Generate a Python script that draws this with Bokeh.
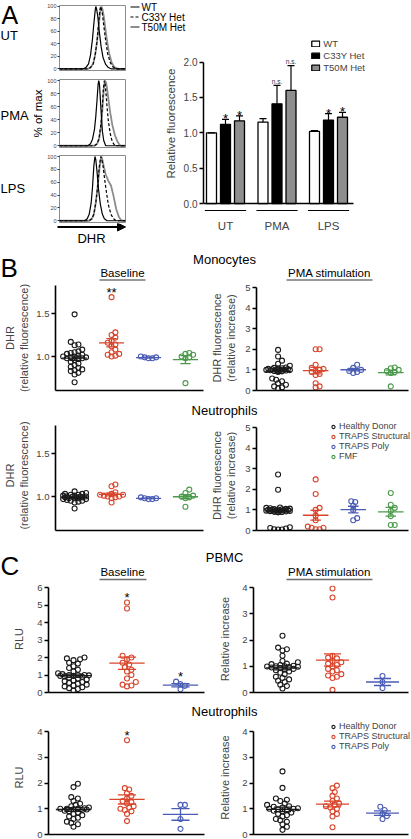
import numpy as np
from bokeh.plotting import figure
from bokeh.layouts import row, column
from bokeh.models import (Range1d, FixedTicker, PrintfTickFormatter, Arrow,
                          NormalHead, Legend, LegendItem)
from bokeh.core.properties import value
from bokeh.embed import file_html
from bokeh.resources import INLINE

# ---------------------------------------------------------------- data
GENOTYPES = ["WT", "C33Y Het", "T50M Het"]
HIST_TICKS = [0, 20, 40, 60, 80, 100]

# flow histograms (% of max vs DHR channel)
ut_wt_x = [0, 36, 40, 44, 47, 50, 52, 54, 55, 56, 58, 60, 63, 66, 70, 74, 78, 100]
ut_wt_y = [0, 0, 2, 8, 22, 48, 72, 93, 100, 97, 85, 62, 36, 18, 7, 2, 0, 0]
ut_c33y_x = [0, 43, 47, 51, 54, 57, 59, 61, 62, 63, 65, 67, 70, 73, 77, 81, 86, 100]
ut_c33y_y = [0, 0, 2, 8, 22, 45, 70, 92, 100, 98, 88, 70, 45, 24, 10, 3, 0, 0]
ut_t50m_x = [0, 43, 47, 51, 54, 57, 60, 62, 63.5, 65, 67, 69, 72, 75, 79, 83, 89, 100]
ut_t50m_y = [0, 0, 2, 8, 22, 45, 75, 94, 100, 96, 85, 68, 45, 26, 10, 3, 0, 0]

pma_wt_x = [0, 43, 47, 50, 53, 55, 57, 58.5, 59.5, 60.5, 62, 63.5, 65, 67, 70, 100]
pma_wt_y = [0, 0, 3, 10, 25, 45, 72, 94, 100, 95, 70, 45, 22, 8, 0, 0]
pma_c33y_x = [0, 53, 57, 60, 63, 65, 66.5, 68, 69, 70.5, 72, 74, 77, 80, 84, 100]
pma_c33y_y = [0, 0, 3, 12, 35, 62, 88, 100, 96, 80, 60, 38, 18, 6, 0, 0]
pma_t50m_x = [0, 53, 57, 60, 63, 65, 67, 69, 70.5, 72, 74, 77, 80, 84, 88, 92, 100]
pma_t50m_y = [0, 0, 3, 10, 30, 55, 85, 100, 97, 88, 72, 50, 32, 16, 6, 0, 0]

lps_wt_x = [0, 38, 42, 45, 48, 50, 52, 53.7, 55, 57, 59, 62, 65, 68, 72, 100]
lps_wt_y = [0, 0, 3, 10, 28, 52, 85, 100, 95, 75, 50, 25, 10, 3, 0, 0]
lps_c33y_x = [0, 45, 49, 52, 55, 58, 60, 62.4, 64, 66, 68, 71, 74, 78, 82, 86, 100]
lps_c33y_y = [0, 0, 3, 10, 28, 55, 82, 100, 96, 85, 68, 45, 25, 10, 3, 0, 0]
lps_t50m_x = [0, 45, 49, 52, 55, 58, 61, 63.4, 65, 67, 70, 74, 78, 82, 86, 90, 94, 100]
lps_t50m_y = [0, 0, 3, 10, 28, 55, 85, 100, 95, 85, 72, 62, 55, 38, 18, 6, 0, 0]

# bar chart (relative fluorescence, mean + error)
CONDITIONS = ["UT", "PMA", "LPS"]
BAR_TICKS = [0.0, 0.5, 1.0, 1.5, 2.0]
bar_wt = [1.00, 1.15, 1.02]
bar_wt_err = [0.00, 0.05, 0.01]
bar_wt_sig = ["", "", ""]
bar_c33y = [1.12, 1.41, 1.18]
bar_c33y_err = [0.07, 0.26, 0.09]
bar_c33y_sig = ["*", "n.s.", "*"]
bar_t50m = [1.17, 1.60, 1.22]
bar_t50m_err = [0.07, 0.35, 0.07]
bar_t50m_sig = ["*", "n.s.", "*"]

# panel B: DHR in monocytes / neutrophils
GROUPS_B = ["Healthy Donor", "TRAPS Structural", "TRAPS Poly", "FMF"]
mono_base_hd = [1.49, 1.17, 1.14, 1.13, 1.08, 1.06, 1.05, 1.04, 1.03, 1.02, 1.01, 1.00, 1.00,
                0.99, 0.99, 0.98, 0.98, 0.97, 0.96, 0.94, 0.92, 0.90, 0.88, 0.87, 0.85, 0.84,
                0.83, 0.81, 0.79, 0.70]
mono_base_ts = [1.69, 1.28, 1.25, 1.22, 1.18, 1.16, 1.14, 1.12, 1.08, 1.05, 1.03, 1.02, 1.01, 1.00]
mono_base_tp = [1.00, 0.99, 0.99, 0.98, 0.98]
mono_base_fmf = [1.04, 1.03, 1.02, 1.00, 0.99, 0.98, 0.69]
mono_base_sig = ["", "**", "", ""]

mono_pma_hd = [1.97, 1.65, 1.45, 1.30, 1.20, 1.12, 1.10, 1.08, 1.06, 1.05, 1.04, 1.03, 1.02,
               1.01, 1.00, 1.00, 0.99, 0.98, 0.97, 0.95, 0.93, 0.90, 0.58, 0.52, 0.45, 0.35,
               0.28, 0.20, 0.15, 0.10]
mono_pma_ts = [2.00, 2.00, 1.25, 1.10, 1.05, 1.00, 0.95, 0.90, 0.80, 0.75, 0.35, 0.20, 0.15]
mono_pma_tp = [1.25, 1.10, 1.00, 0.95, 0.90, 0.85]
mono_pma_fmf = [1.12, 1.08, 1.00, 0.95, 0.90, 0.85, 0.20]

neut_base_hd = [1.06, 1.04, 1.03, 1.03, 1.02, 1.02, 1.01, 1.01, 1.00, 1.00, 1.00, 1.00, 0.99,
                0.99, 0.99, 0.98, 0.98, 0.98, 0.97, 0.97, 0.96, 0.95, 0.95, 0.94, 0.93, 0.86]
neut_base_ts = [1.14, 1.12, 1.05, 1.03, 1.02, 1.02, 1.01, 1.00, 1.00, 0.99, 0.98, 0.93]
neut_base_tp = [0.99, 0.98, 0.98, 0.97, 0.97]
neut_base_fmf = [1.08, 1.04, 1.01, 1.00, 0.99, 0.98, 0.88]

neut_pma_hd = [2.72, 1.98, 1.12, 1.10, 1.08, 1.06, 1.05, 1.04, 1.03, 1.02, 1.01, 1.00, 1.00,
               0.99, 0.98, 0.97, 0.96, 0.95, 0.94, 0.93, 0.92, 0.90, 0.88, 0.16, 0.12, 0.10,
               0.06, 0.05, 0.05]
neut_pma_ts = [2.48, 1.77, 1.10, 1.00, 0.72, 0.50, 0.19, 0.13, 0.06, 0.06, 0.13]
neut_pma_tp = [1.42, 1.38, 1.20, 1.00, 0.60, 0.50]
neut_pma_fmf = [1.82, 1.25, 1.10, 0.95, 0.70, 0.27, 0.27]

# panel C: chemiluminescence in PBMC / neutrophils
GROUPS_C = ["Healthy Donor", "TRAPS Structural", "TRAPS Poly"]
pbmc_base_hd = [2.00, 1.95, 1.90, 1.85, 1.70, 1.65, 1.50, 1.40, 1.30, 1.20, 1.10, 1.05, 1.00,
                1.00, 1.00, 0.98, 0.95, 0.95, 0.92, 0.90, 0.85, 0.80, 0.75, 0.70, 0.65, 0.60,
                0.55, 0.50, 0.45, 0.40, 0.35, 0.30, 0.25, 0.20, 0.10]
pbmc_base_ts = [5.14, 4.80, 2.10, 2.00, 1.90, 1.70, 1.60, 1.45, 1.30, 1.20, 1.00, 0.80, 0.60,
                0.45, 0.40, 0.35]
pbmc_base_tp = [0.62, 0.48, 0.38, 0.19]
pbmc_base_sig = ["", "*", "*"]

pbmc_pma_hd = [2.16, 1.71, 1.65, 1.60, 1.40, 1.20, 1.15, 1.10, 1.08, 1.05, 1.02, 1.00, 1.00,
               0.99, 0.98, 0.97, 0.95, 0.93, 0.90, 0.88, 0.85, 0.80, 0.75, 0.70, 0.60, 0.55,
               0.50, 0.45, 0.40, 0.30, 0.25, 0.15]
pbmc_pma_ts = [3.96, 3.62, 1.40, 1.33, 1.30, 1.20, 1.15, 1.10, 1.05, 1.00, 0.90, 0.85, 0.80,
               0.70, 0.65, 0.60, 0.55, 0.10]
pbmc_pma_tp = [0.63, 0.40, 0.17]

neut2_base_hd = [1.97, 1.84, 1.45, 1.40, 1.30, 1.20, 1.15, 1.10, 1.05, 1.02, 1.00, 1.00, 1.00,
                 0.98, 0.97, 0.95, 0.92, 0.90, 0.85, 0.80, 0.75, 0.70, 0.65, 0.60, 0.50, 0.45,
                 0.40, 0.30]
neut2_base_ts = [3.66, 1.80, 1.75, 1.60, 1.50, 1.40, 1.30, 1.25, 1.20, 1.10, 1.05, 1.00, 0.95,
                 0.90, 0.80, 0.52]
neut2_base_tp = [1.15, 1.15, 0.60, 0.22]
neut2_base_sig = ["", "*", ""]

neut2_pma_hd = [2.45, 1.81, 1.40, 1.35, 1.30, 1.20, 1.15, 1.10, 1.08, 1.05, 1.02, 1.00, 1.00,
                0.98, 0.95, 0.92, 0.90, 0.85, 0.80, 0.75, 0.70, 0.60, 0.55, 0.50, 0.40, 0.30,
                0.18]
neut2_pma_ts = [1.90, 1.80, 1.65, 1.50, 1.40, 1.30, 1.20, 1.15, 1.10, 1.05, 1.00, 0.90, 0.80,
                0.70, 0.28]
neut2_pma_tp = [1.08, 0.95, 0.80, 0.72, 0.60]

# ---------------------------------------------------------------- styling helpers
FONT = "Liberation Sans"
COLORS = ["#1a1a1a", "#d9452b", "#4a5cb3", "#4b994b"]
BAR_FILLS = ["white", "black", "#8e8e8e"]
HIST_STYLES = {"WT": dict(line_color="black", line_width=1.2),
               "C33Y Het": dict(line_color="black", line_width=1.2, line_dash="3 2"),
               "T50M Het": dict(line_color="#8c8c8c", line_width=1.8)}


def px(v):
    return int(round(v))


def fs(size):
    return f"{size:.1f}px"


def make_fig(box, frame, x_range, y_range, axes=True):
    x0, x1, y0, y1 = box
    fl, fr, ft, fb = frame
    kw = {} if axes else dict(x_axis_type=None, y_axis_type=None)
    p = figure(width=px(x1 - x0), height=px(y1 - y0),
               x_range=x_range, y_range=y_range,
               min_border_left=px(fl - x0), min_border_right=px(x1 - fr),
               min_border_top=px(ft - y0), min_border_bottom=px(y1 - fb),
               output_backend="svg", toolbar_location=None, **kw)
    p.frame_align = False
    p.outline_line_color = None
    p.grid.visible = False
    return p


def style_axis(ax, font_px=9.5, line_w=1.6):
    ax.axis_line_width = line_w
    ax.major_tick_out = 4
    ax.major_tick_in = 0
    ax.major_tick_line_width = 1.3
    ax.minor_tick_line_color = None
    ax.major_label_text_font = FONT
    ax.major_label_text_font_size = fs(font_px)
    ax.major_label_standoff = 2
    ax.axis_label_text_font = FONT
    ax.axis_label_text_font_style = "normal"
    ax.axis_label_text_font_size = fs(11)


def style_legend(lg, font_px, gw, gh, lh, spacing=0):
    lg.label_text_font = FONT
    lg.label_text_font_size = fs(font_px)
    lg.glyph_width = gw
    lg.glyph_height = gh
    lg.label_height = lh
    lg.label_standoff = 3
    lg.spacing = spacing
    lg.padding = 0
    lg.border_line_color = None
    lg.background_fill_alpha = 0


def swarm(vals, center, ppx, ppy, d=4.0, max_off=13.0):
    vals = np.asarray(vals, dtype=float)
    order = np.argsort(vals)
    placed = []
    xs = np.zeros(len(vals))
    step = d * 0.5
    cands = [0.0]
    k = 1
    while k * step <= max_off:
        cands += [k * step, -k * step]
        k += 1
    for i in order:
        y = vals[i] * ppy
        best, best_md = 0.0, -1.0
        for off in cands:
            md = min([np.hypot(off - qx, y - qy) for qx, qy in placed], default=1e9)
            if md >= d:
                best = off
                break
            if md > best_md:
                best, best_md = off, md
        placed.append((best, y))
        xs[i] = center + best / ppx
    return xs


# ---------------------------------------------------------------- text strips (page layout)
def text_fig(box, items, lines=(), arrows=()):
    x0, x1, y0, y1 = box
    p = make_fig(box, box, Range1d(x0, x1), Range1d(y1, y0), axes=False)
    for (x, y, t, size, align, angle) in items:
        p.text(x=[x], y=[y], text=[t], text_font=value(FONT), text_font_size=fs(size),
               text_align=align, text_baseline="middle", angle=angle)
    for (xa_, xb_, y, style) in lines:
        p.segment(x0=[xa_], y0=[y], x1=[xb_], y1=[y], **style)
    for (xa_, xb_, y) in arrows:
        p.add_layout(Arrow(x_start=xa_, y_start=y, x_end=xb_, y_end=y, line_width=1.8,
                           line_color="black",
                           end=NormalHead(size=8, fill_color="black", line_color="black")))
    return p


a_text = text_fig((0, 44, 0, 248),
                  [(1, 14, "A", 25, "left", 0), (0, 35, "UT", 13, "left", 0),
                   (0, 115, "PMA", 13, "left", 0), (0, 188, "LPS", 13, "left", 0),
                   (37, 113, "% of max", 11.5, "center", np.pi / 2)])
dhr_fig = text_fig((44, 128, 223, 248), [(91, 237.5, "DHR", 13, "center", 0)],
                   arrows=[(57, 125, 226.5)])

# key for the histogram line styles
HIST_KEY_Y = [6.5, 16.5, 26.5]
strip = text_fig((128, 411, 0, 32),
                 [(141, y, g, 10, "left", 0) for g, y in zip(GENOTYPES, HIST_KEY_Y)],
                 lines=[(130, 139, y, HIST_STYLES[g]) for g, y in zip(GENOTYPES, HIST_KEY_Y)])


# ---------------------------------------------------------------- panel A: histograms
def hist_panel(box, frame, curves):
    p = make_fig(box, frame, Range1d(0, 100), Range1d(-2.7, 101.6))
    p.outline_line_color = "#8c8c8c"
    p.outline_line_width = 1
    p.xaxis.visible = False
    ya = p.yaxis[0]
    ya.ticker = FixedTicker(ticks=HIST_TICKS)
    ya.axis_line_color = None
    ya.major_tick_out = 2
    ya.major_tick_in = 0
    ya.major_tick_line_width = 0.8
    ya.minor_tick_line_color = None
    ya.major_label_text_font = FONT
    ya.major_label_text_font_size = fs(5.5)
    ya.major_label_standoff = 1
    for name in ["T50M Het", "WT", "C33Y Het"]:
        xs, ys = curves[name]
        p.line(x=xs, y=ys, **HIST_STYLES[name])
    return p


h_ut = hist_panel((44, 128, 0, 75), (57, 125, 5, 70),
                  {"WT": (ut_wt_x, ut_wt_y), "C33Y Het": (ut_c33y_x, ut_c33y_y),
                   "T50M Het": (ut_t50m_x, ut_t50m_y)})
h_pma = hist_panel((44, 128, 75, 151), (57, 125, 79, 147),
                   {"WT": (pma_wt_x, pma_wt_y), "C33Y Het": (pma_c33y_x, pma_c33y_y),
                    "T50M Het": (pma_t50m_x, pma_t50m_y)})
h_lps = hist_panel((44, 128, 151, 223), (57, 125, 155, 222),
                   {"WT": (lps_wt_x, lps_wt_y), "C33Y Het": (lps_c33y_x, lps_c33y_y),
                    "T50M Het": (lps_t50m_x, lps_t50m_y)})

# ---------------------------------------------------------------- panel A: bar chart
BAR_PX = 51.5      # ref px per condition
BAR_UNIT = 70.7    # ref px per fluorescence unit
FL, FR, FT, FB = 203, 370, 33, 213
bx0 = 1 - (225 - FL) / BAR_PX
bx1 = bx0 + (FR - FL) / BAR_PX
by0 = -(FB - 203) / BAR_UNIT
by1 = (203 - FT) / BAR_UNIT
bar = make_fig((128, 411, 32, 248), (FL, FR, FT, FB), Range1d(bx0, bx1), Range1d(by0, by1))
ppy_bar = (FB - FT) / (by1 - by0)
pos = np.arange(len(CONDITIONS)) + 1.0
offsets = [-14 / BAR_PX, 0.0, 14 / BAR_PX]
bar_w = 10 / BAR_PX
cap = 3.5 / BAR_PX

# baseline and group underlines
x_end = pos[-1] + (353 - 328) / BAR_PX
bar.segment(x0=[bx0], y0=[0], x1=[x_end], y1=[0], line_color="black", line_width=1.6)
under_y = -(210 - 203) / BAR_UNIT
bar.segment(x0=pos - 0.4, y0=[under_y] * len(pos), x1=pos + 0.4, y1=[under_y] * len(pos),
            line_color="black", line_width=1.1)

bar_series = [(bar_wt, bar_wt_err, bar_wt_sig), (bar_c33y, bar_c33y_err, bar_c33y_sig),
              (bar_t50m, bar_t50m_err, bar_t50m_sig)]
bar_renderers = []
for gi, (vals, errs, sig) in enumerate(bar_series):
    xs = pos + offsets[gi]
    vals = np.asarray(vals)
    errs = np.asarray(errs)
    r = bar.vbar(x=xs, top=vals, bottom=0, width=bar_w, fill_color=BAR_FILLS[gi],
                 line_color="black", line_width=1.3)
    bar_renderers.append(r)
    bar.segment(x0=xs, y0=vals, x1=xs, y1=vals + errs, line_color="black", line_width=1.2)
    bar.segment(x0=xs - cap, y0=vals + errs, x1=xs + cap, y1=vals + errs,
                line_color="black", line_width=1.2)
    stars = [s if s == "*" else "" for s in sig]
    ns = [s if s != "*" else "" for s in sig]
    bar.text(x=xs, y=vals + errs + 0.5 / ppy_bar, text=stars, text_font=value(FONT),
             text_font_size=fs(13), text_align="center", text_baseline="alphabetic")
    bar.text(x=xs, y=vals + errs + 4 / ppy_bar, text=ns, text_font=value(FONT),
             text_font_size=fs(6.5), text_align="center", text_baseline="alphabetic",
             text_color="#333333")

ya = bar.yaxis[0]
style_axis(ya, font_px=10, line_w=1.5)
ya.ticker = FixedTicker(ticks=BAR_TICKS)
ya.formatter = PrintfTickFormatter(format="%.1f")
ya.bounds = (BAR_TICKS[0], BAR_TICKS[-1])
ya.axis_label = "Relative fluorescence"
ya.axis_label_text_font_size = fs(11.5)
ya.axis_label_standoff = 4
xa = bar.xaxis[0]
xa.ticker = FixedTicker(ticks=list(pos))
xa.major_label_overrides = {int(p_): c for p_, c in zip(pos, CONDITIONS)}
xa.axis_line_color = None
xa.major_tick_line_color = None
xa.minor_tick_line_color = None
xa.major_label_text_font = FONT
xa.major_label_text_font_size = fs(11.5)
xa.major_label_standoff = 0

leg_bar = Legend(items=[LegendItem(label=g, renderers=[r]) for g, r in zip(GENOTYPES, bar_renderers)],
                 location="top_right")
style_legend(leg_bar, 9.5, 10, 7, 9, spacing=1)
leg_bar.margin = 5
bar.add_layout(leg_bar)

# ---------------------------------------------------------------- header strips
B_UL = dict(line_color="#333333", line_width=1.0)
C_UL = dict(line_color="#6e6e6e", line_width=1.6)
hdr_b = text_fig((0, 411, 248, 281),
                 [(0, 267, "B", 26, "left", 0), (224, 259, "Monocytes", 13, "center", 0),
                  (122, 272.5, "Baseline", 11.5, "center", 0),
                  (329, 272, "PMA stimulation", 11.5, "center", 0)],
                 lines=[(99, 145, 279.5, B_UL), (286, 372, 279.5, B_UL)])
hdr_n1 = text_fig((0, 411, 400, 419), [(224, 409.5, "Neutrophils", 13, "center", 0)])
hdr_c = text_fig((0, 411, 540, 581),
                 [(0, 565, "C", 26, "left", 0), (224, 557, "PBMC", 13, "center", 0),
                  (122, 571, "Baseline", 11.5, "center", 0),
                  (329, 571, "PMA stimulation", 11.5, "center", 0)],
                 lines=[(99, 146, 579, C_UL), (286, 372, 579, C_UL)])
hdr_n2 = text_fig((0, 411, 700, 719), [(224, 710.5, "Neutrophils", 13, "center", 0)])


# ---------------------------------------------------------------- scatter panels
def scatter_panel(box, frame, xr, yr, groups, ticks, fmt, ylabel, standoff,
                  ybounds=None, xbounds=None, sig=None, mean_half=0.34, cap_half=0.14,
                  legend=None, d=4.0, max_off=13.0):
    p = make_fig(box, frame, Range1d(*xr), Range1d(*yr))
    fl, fr, ft, fb = frame
    ppx = (fr - fl) / (xr[1] - xr[0])
    ppy = (fb - ft) / (yr[1] - yr[0])
    rends = []
    for gi, vals in enumerate(groups):
        c = gi + 1.0
        col = COLORS[gi]
        xs = swarm(vals, c, ppx, ppy, d=d, max_off=max_off)
        r = p.scatter(x=xs, y=vals, marker="circle", size=5, fill_color=None,
                      line_color=col, line_width=1.1)
        rends.append(r)
        v = np.asarray(vals, dtype=float)
        m = v.mean()
        s = v.std(ddof=1) / np.sqrt(len(v))
        p.segment(x0=[c - mean_half, c - cap_half, c - cap_half, c],
                  y0=[m, m + s, m - s, m - s],
                  x1=[c + mean_half, c + cap_half, c + cap_half, c],
                  y1=[m, m + s, m - s, m + s], line_color=col, line_width=1.3)
        if sig and sig[gi]:
            p.text(x=[c], y=[v.max() + 5 / ppy], text=[sig[gi]], text_font=value(FONT),
                   text_font_size=fs(13), text_align="center", text_baseline="alphabetic")
    ya = p.yaxis[0]
    style_axis(ya)
    ya.ticker = FixedTicker(ticks=ticks)
    ya.formatter = PrintfTickFormatter(format=fmt)
    ya.axis_label = ylabel
    ya.axis_label_standoff = standoff
    if ybounds:
        ya.bounds = ybounds
    xa = p.xaxis[0]
    xa.ticker = FixedTicker(ticks=[])
    xa.axis_line_width = 1.6
    xa.major_tick_line_color = None
    xa.minor_tick_line_color = None
    if xbounds:
        xa.bounds = xbounds
    if legend:
        lg = Legend(items=[LegendItem(label=n, renderers=[r]) for n, r in zip(legend, rends)],
                    location="top_right")
        style_legend(lg, 9, 8, 9, 10)
        lg.label_standoff = 2
        lg.margin = 1
        p.add_layout(lg)
    return p


B_X = (1 - 20 / 38.7, 1 - 20 / 38.7 + 155 / 38.7)
B2_X0 = 1 - 22 / 38.3
B2_X = (B2_X0, B2_X0 + 158 / 38.3)
B2_XB = (B2_X0, B2_X0 + 155 / 38.3)
B_REL_Y1 = (1 - 34 / 86, 1 + 71 / 86)
B_REL_Y2 = (1 - 34 / 86, 1 + 76 / 86)
B_INC_Y1 = (0, 105 / 20.6)
B_INC_Y2 = (0, 110 / 20.6)
C1_X = (1 - 25 / 53.5, 1 - 25 / 53.5 + 156 / 53.5)
C2_X0 = 1 - 29 / 50
C2_X = (C2_X0, C2_X0 + 158 / 50)
C2_XB = (C2_X0, C2_X0 + 155 / 50)

b1 = scatter_panel((0, 207, 281, 400), (48, 203, 285, 390), B_X, B_REL_Y1,
                   [mono_base_hd, mono_base_ts, mono_base_tp, mono_base_fmf],
                   [1.0, 1.5], "%.1f", "DHR\n(relative fluorescence)", 3, sig=mono_base_sig)
b2 = scatter_panel((207, 411, 281, 400), (253, 411, 285, 390), B2_X, B_INC_Y1,
                   [mono_pma_hd, mono_pma_ts, mono_pma_tp, mono_pma_fmf],
                   [0, 1, 2, 3, 4, 5], "%d", "DHR fluorescence\n(relative increase)", 5,
                   ybounds=(0, 5), xbounds=B2_XB)
b3 = scatter_panel((0, 207, 419, 540), (48, 203, 420, 530), B_X, B_REL_Y2,
                   [neut_base_hd, neut_base_ts, neut_base_tp, neut_base_fmf],
                   [1.0, 1.5], "%.1f", "DHR\n(relative fluorescence)", 3,
                   ybounds=B_REL_Y1)
b4 = scatter_panel((207, 411, 419, 540), (253, 411, 420, 530), B2_X, B_INC_Y2,
                   [neut_pma_hd, neut_pma_ts, neut_pma_tp, neut_pma_fmf],
                   [0, 1, 2, 3, 4, 5], "%d", "DHR fluorescence\n(relative increase)", 5,
                   ybounds=(0, 5), xbounds=B2_XB, legend=GROUPS_B)

c1 = scatter_panel((0, 207, 581, 700), (48, 204, 585, 692), C1_X, (0, 107 / 17.5),
                   [pbmc_base_hd, pbmc_base_ts, pbmc_base_tp],
                   [0, 1, 2, 3, 4, 5, 6], "%d", "RLU", 9, ybounds=(0, 6), sig=pbmc_base_sig,
                   mean_half=0.33, cap_half=0.17, d=4.4, max_off=17)
c2 = scatter_panel((207, 411, 581, 700), (253, 411, 585, 692), C2_X, (0, 107 / 26.25),
                   [pbmc_pma_hd, pbmc_pma_ts, pbmc_pma_tp],
                   [0, 1, 2, 3, 4], "%d", "Relative increase", 8, ybounds=(0, 4),
                   xbounds=C2_XB, mean_half=0.33, cap_half=0.17, d=4.4, max_off=17)
c3 = scatter_panel((0, 207, 719, 838), (48, 204, 720, 834), C1_X, (0, 114 / 25.75),
                   [neut2_base_hd, neut2_base_ts, neut2_base_tp],
                   [0, 1, 2, 3, 4], "%d", "RLU", 9, ybounds=(0, 4), sig=neut2_base_sig,
                   mean_half=0.33, cap_half=0.17, d=4.4, max_off=17)
c4 = scatter_panel((207, 411, 719, 838), (253, 411, 720, 834), C2_X, (0, 114 / 25.75),
                   [neut2_pma_hd, neut2_pma_ts, neut2_pma_tp],
                   [0, 1, 2, 3, 4], "%d", "Relative increase", 8, ybounds=(0, 4),
                   xbounds=C2_XB, mean_half=0.33, cap_half=0.17, legend=GROUPS_C,
                   d=4.4, max_off=17)

layout = column(
    row(a_text, column(h_ut, h_pma, h_lps, dhr_fig), column(strip, bar)),
    hdr_b, row(b1, b2), hdr_n1, row(b3, b4),
    hdr_c, row(c1, c2), hdr_n2, row(c3, c4),
)

with open("out.html", "w") as f:
    f.write(file_html(layout, INLINE))
